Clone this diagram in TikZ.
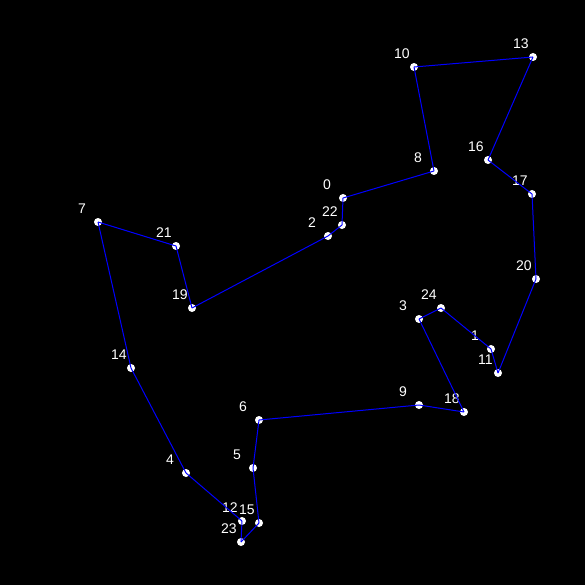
\documentclass[tikz,border=0pt]{standalone}
\usepackage{fontspec}
\setmainfont{Liberation Sans}
\usetikzlibrary{positioning}

\tikzset{
  dot/.style={circle, fill=white, inner sep=0pt, minimum size=8pt},
  lbl/.style={text=white, anchor=west, inner sep=0pt, font=\fontsize{14}{14}\selectfont},
  tour/.style={blue, line width=1pt}
}

\begin{document}
\begin{tikzpicture}[x=1pt, y=-1pt]

% --- Sfondo
\fill[black] (0,0) rectangle (585,585);
\useasboundingbox (0,0) rectangle (585,585);

% --- Citta' e etichette
\foreach \n/\x/\y in {0/343/198, 1/491/349, 2/328/236, 3/419/319, 4/186/473,
                      5/253/468, 6/259/420, 7/98/222, 8/434/171, 9/419/405,
                      10/414/67, 11/498/373, 12/242/521, 13/533/57, 14/131/368,
                      15/259/523, 16/488/160, 17/532/194, 18/464/412, 19/192/308,
                      20/536/279, 21/176/246, 22/342/225, 23/241/542, 24/441/308}{
  \node[dot] (p\n) at (\x,\y) {};
  \node[lbl] (l\n) at (\x-20,\y-13) {\n};
}

% --- Giro
\foreach \a/\b in {0/8, 8/10, 10/13, 13/16, 16/17, 17/20, 20/11, 11/1, 1/24,
                   24/3, 3/18, 18/9, 9/6, 6/5, 5/15, 15/23, 23/12, 12/4, 4/14,
                   14/7, 7/21, 21/19, 19/2, 2/22, 22/0}
  \draw[tour] (p\a.center) -- (p\b.center);

\end{tikzpicture}
\end{document}
